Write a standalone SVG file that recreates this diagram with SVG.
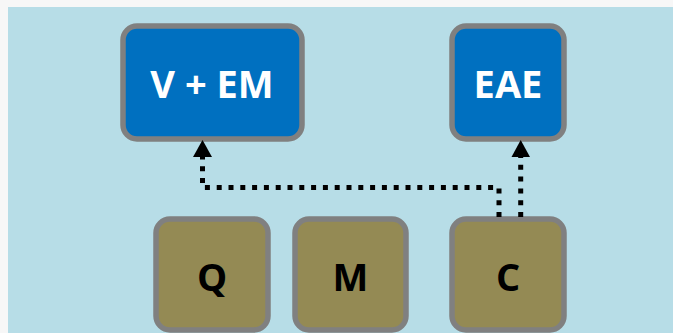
<svg xmlns="http://www.w3.org/2000/svg" width="673" height="333" viewBox="0 0 673 333">
  <defs>
    <style>
      .top rect { fill: #0070c0; stroke: #808080; stroke-width: 5.5; }
      .bot rect { fill: #948a54; stroke: #808080; stroke-width: 5.5; }
      .top text { fill: #ffffff; }
      .bot text { fill: #000000; }
      text { font-family: "Open Sans", "Liberation Sans", sans-serif; font-weight: bold; font-size: 38px; text-anchor: middle; }
      .conn { fill: none; stroke: #000000; stroke-width: 5; stroke-dasharray: 5 6.8; }
      .head { fill: #000000; }
    </style>
  </defs>
  <rect x="0" y="0" width="673" height="333" fill="#f7f7f7"/>
  <rect x="8" y="7" width="665" height="326" fill="#b7dde7"/>

  <g id="node-vem" class="top">
    <rect x="123" y="26" width="179" height="113" rx="14" ry="14"/>
    <text x="212" y="98">V + EM</text>
  </g>
  <g id="node-eae" class="top">
    <rect x="452" y="26" width="112" height="113" rx="14" ry="14"/>
    <text x="508" y="98">EAE</text>
  </g>
  <g id="node-q" class="bot">
    <rect x="156" y="219" width="112" height="111" rx="14" ry="14"/>
    <text x="212" y="291">Q</text>
  </g>
  <g id="node-m" class="bot">
    <rect x="295" y="219" width="111" height="111" rx="14" ry="14"/>
    <text x="350.5" y="291">M</text>
  </g>
  <g id="node-c" class="bot">
    <rect x="452" y="219" width="112" height="111" rx="14" ry="14"/>
    <text x="508" y="291">C</text>
  </g>

  <g id="connectors">
    <path class="conn" d="M499,217 L499,187.5 L202.5,187.5 L202.5,157" />
    <path class="head" d="M193,157 L212,157 L202.5,140 Z"/>
    <path class="conn" d="M520.7,217 L520.7,157" />
    <path class="head" d="M511.5,157 L530,157 L520.7,140 Z"/>
  </g>
</svg>
